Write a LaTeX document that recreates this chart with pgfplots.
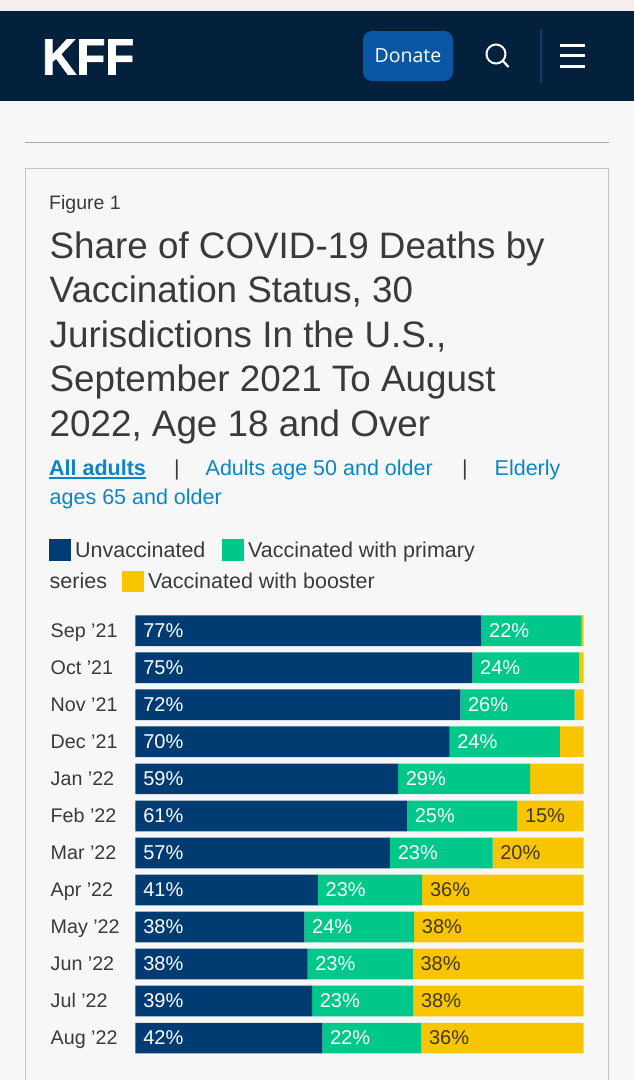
\documentclass[border=0pt]{standalone}
\usepackage{fontspec}
\setmainfont{Liberation Sans}
\newfontfamily\donatefont{Open Sans}
\newfontfamily\logofont[FakeBold=1.5]{Liberation Sans Bold}
\usepackage{pgfplots}
\usepackage{pgfplotstable}
\pgfplotsset{compat=1.18}
\definecolor{pagebg}{HTML}{F7F7F7}
\definecolor{headerbg}{HTML}{03203D}
\definecolor{topstrip}{HTML}{F5EEEB}
\definecolor{btn}{HTML}{0A56A4}
\definecolor{sepblue}{HTML}{0F3C70}
\definecolor{navy}{HTML}{003B71}
\definecolor{green}{HTML}{00C88A}
\definecolor{yel}{HTML}{F7C600}
\definecolor{txt}{HTML}{3A3A3A}
\definecolor{lnk}{HTML}{0A86C8}
\definecolor{rulegray}{HTML}{A8A8A8}
\definecolor{boxgray}{HTML}{C4C4C4}
\definecolor{darklab}{HTML}{43371A}
\pgfplotstableread{
idx unv pri boost lu lp
0 77.2 22.4 0.4 77 22
1 75.2 23.8 1.0 75 24
2 72.5 25.5 2.0 72 26
3 70.1 24.6 5.3 70 24
4 58.6 29.5 11.9 59 29
5 60.6 24.6 14.8 61 25
6 56.8 22.9 20.3 57 23
7 40.7 23.3 36.0 41 23
8 37.7 24.5 37.8 38 24
9 38.4 23.5 38.1 38 23
10 39.4 22.6 38.0 39 23
11 41.7 22.1 36.2 42 22
}\shares
\pgfplotstableread{
x y lab
85.2 5 15
79.7 6 20
64.0 7 36
62.2 8 38
61.9 9 38
62.0 10 38
63.8 11 36
}\boostlabels
\pgfplotsset{
  chartbase/.style={
    at={(135.5pt,-612.2pt)}, anchor=north west,
    scale only axis, width=448pt, height=444.4pt,
    xmin=0, xmax=100, ymin=-0.5, ymax=11.5, y dir=reverse,
  },
  seglabel/.style={
    draw=none, mark=none,
    point meta=explicit symbolic,
    nodes near coords={\pgfplotspointmeta\%},
    nodes near coords style={anchor=base west, inner sep=0pt, xshift=7.6pt, yshift=-6.4pt,
      font=\fontsize{20}{24}\selectfont, text=#1},
  },
}
\begin{document}
\begin{tikzpicture}[x=1pt,y=-1pt]
\useasboundingbox (0,0) rectangle (634,1080);
\fill[pagebg] (0,0) rectangle (634,1080);
\fill[topstrip] (0,0) rectangle (634,11);
\fill[headerbg] (0,11) rectangle (634,101);
% logo
\node[anchor=base west, inner sep=0pt, text=white, font=\logofont\fontsize{51}{51}\selectfont, xscale=0.93] at (42,74.5) {KFF};
% donate
\fill[btn, rounded corners=9pt] (363,31) rectangle (453,81);
\node[anchor=base, inner sep=0pt, text=white, font=\donatefont\fontsize{19.5}{22}\selectfont] at (408,62) {Donate};
% search
\draw[white, line width=2pt] (496,54) circle (9.5);
\draw[white, line width=2.2pt] (503,61) -- (508.5,67);
\draw[sepblue, line width=1.2pt] (541,30) -- (541,83);
\foreach \yy in {45.5,55.5,66}{\fill[white] (560,\yy-1.5) rectangle (585,\yy+1.5);}
% rule and box
\draw[rulegray, line width=1pt] (25,142.5) -- (609,142.5);
\draw[boxgray, line width=1pt] (25.5,1080) -- (25.5,168.5) -- (608.5,168.5) -- (608.5,1080);
% heading
\node[anchor=base west, inner sep=0pt, text=txt, font=\fontsize{19.5}{22}\selectfont] at (49,209.5) {Figure 1};
\foreach \tl/\yy in {{Share of COVID-19 Deaths by}/258.3, {Vaccination Status, 30}/302.7, {Jurisdictions In the U.S.,}/347.3, {September 2021 To August}/391.8, {2022, Age 18 and Over}/436.5}{
  \node[anchor=base west, inner sep=0pt, text=txt, font=\fontsize{36.8}{40}\selectfont] at (49.5,\yy) {\tl};
}
% tabs
\begin{scope}[every node/.style={anchor=base west, inner sep=0pt, font=\fontsize{21.5}{24}\selectfont}]
\node[text=lnk, font=\fontsize{21.5}{24}\bfseries\selectfont] at (49,475) {All adults};
\draw[lnk, line width=1.5pt] (49,478) -- (145.5,478);
\node[text=txt] at (174,475) {|};
\node[text=lnk] at (205.5,475) {Adults age 50 and older};
\node[text=txt] at (462,475) {|};
\node[text=lnk] at (494.5,475) {Elderly};
\node[text=lnk] at (49.5,504) {ages 65 and older};
\end{scope}
% legend
\fill[navy] (49,539) rectangle (71,560.5);
\fill[green] (222,539) rectangle (244,560.5);
\fill[yel] (122,570.5) rectangle (144,592);
\begin{scope}[every node/.style={anchor=base west, inner sep=0pt, text=txt, font=\fontsize{21.5}{24}\selectfont}]
\node at (75,557) {Unvaccinated};
\node at (248,557) {Vaccinated with primary};
\node at (49.5,588.3) {series};
\node at (148,588.3) {Vaccinated with booster};
\end{scope}
% bars
\begin{axis}[chartbase,
  xbar stacked, bar width=30.7pt,
  axis line style={draw=none}, tick style={draw=none},
  xtick=\empty,
  ytick={0,...,11},
  yticklabels={Sep ’21,Oct ’21,Nov ’21,Dec ’21,Jan ’22,Feb ’22,Mar ’22,Apr ’22,May ’22,Jun ’22,Jul ’22,Aug ’22},
  yticklabel style={anchor=base west, inner sep=0pt, xshift=-85pt, yshift=-6.4pt, text=txt,
    font=\fontsize{19.7}{22}\selectfont},
]
\addplot[fill=navy, draw=none] table[x=unv, y=idx] {\shares};
\addplot[fill=green, draw=none] table[x=pri, y=idx] {\shares};
\addplot[fill=yel, draw=none] table[x=boost, y=idx] {\shares};
\end{axis}
% segment labels
\begin{axis}[chartbase, hide axis, clip=false]
\addplot[seglabel=white] table[x expr=0, y=idx, meta=lu] {\shares};
\addplot[seglabel=white] table[x=unv, y=idx, meta=lp] {\shares};
\addplot[seglabel=darklab] table[x=x, y=y, meta=lab] {\boostlabels};
\end{axis}
\end{tikzpicture}
\end{document}
